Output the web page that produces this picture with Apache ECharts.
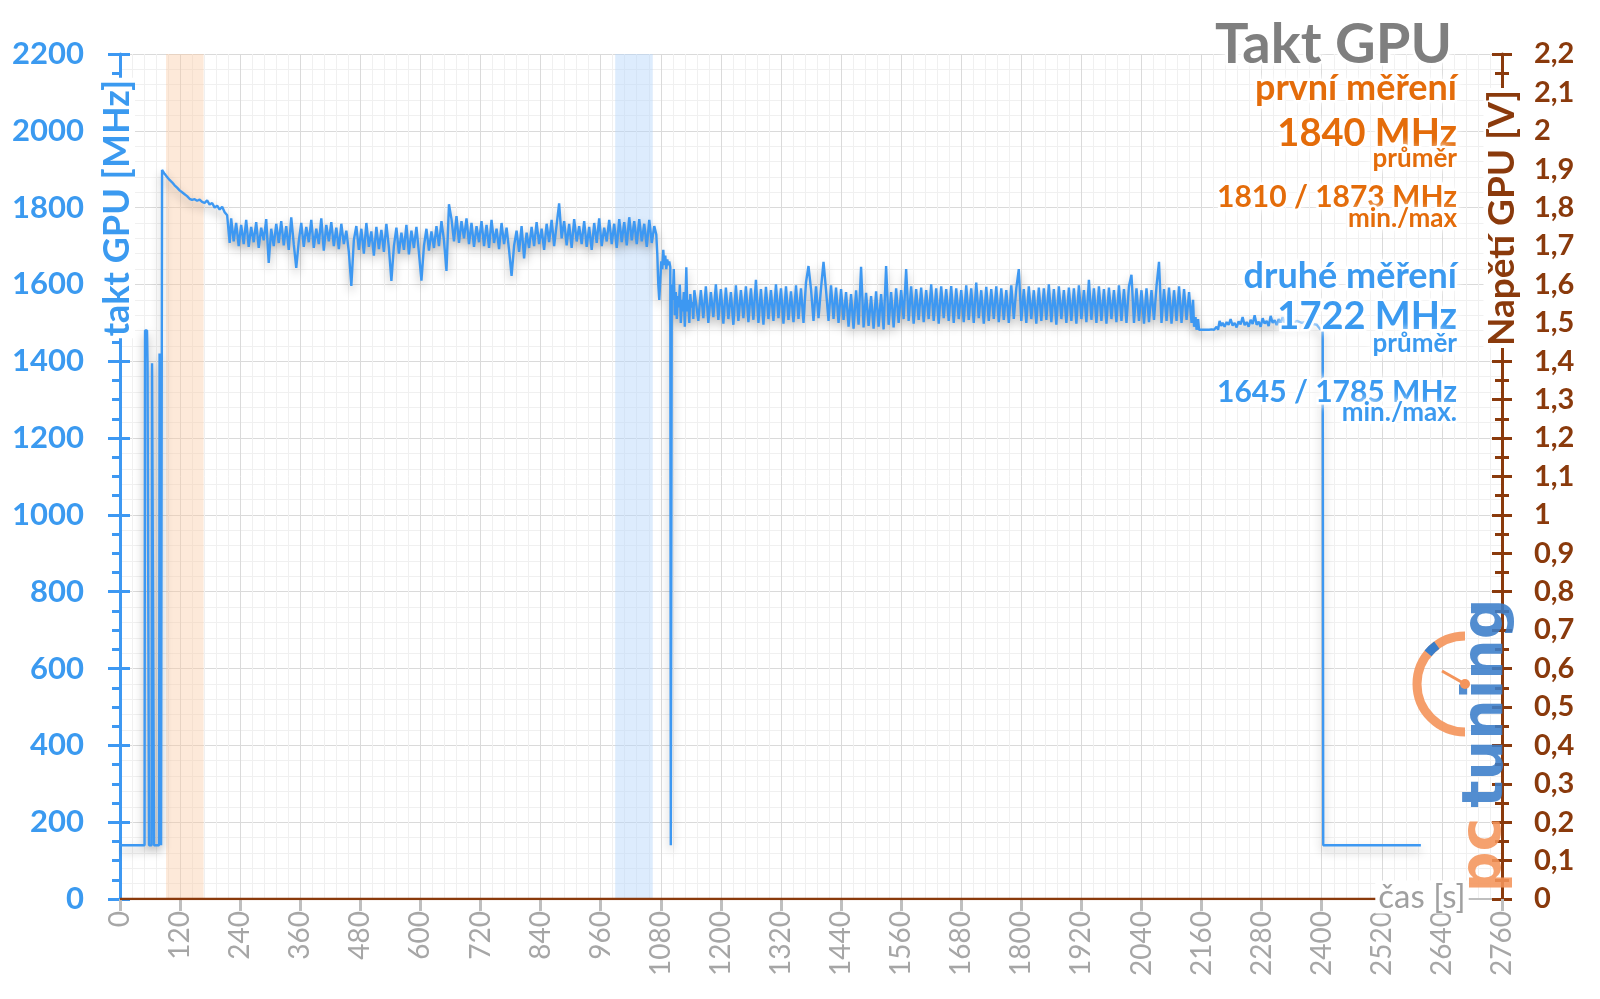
<!DOCTYPE html>
<html><head><meta charset="utf-8">
<script src="https://cdn.jsdelivr.net/npm/echarts@6/dist/echarts.min.js"></script>
<style>html,body{margin:0;padding:0;background:#fff}#c{width:1600px;height:999px}</style>
</head><body><div id="c"></div>
<script>
// ---------- data (time in s, GPU clock in MHz) ----------
const startTimes = [0, 49, 50, 54, 55, 57, 58, 63, 64, 67, 68, 78, 79, 81, 82, 83, 84];
const startClock = [140, 140, 1480, 1480, 1395, 1395, 140, 140, 1395, 1395, 140, 140, 1420, 1420, 140, 140, 1898];

const decayStart = 89, decayStep = 5;
const decayClock = [1888,1880,1872,1866,1858,1852,1845,1840,1835,1830,1823,1820,1822,1818,1821,1815,1812,1819,1808,1812,1800,1805,1795,1802,1788,1780,1708];

const bandAStart = 222, bandAStep = 5;
const bandAClock = [
1772,1712,1760,1700,1755,1705,1768,1698,1750,1710,
1762,1695,1748,1715,1770,1656,1745,1700,1758,1708,
1765,1702,1752,1690,1775,1705,1643,1712,1760,1698,
1750,1710,1768,1695,1745,1705,1772,1688,1755,1712,
1762,1700,1748,1692,1758,1705,1740,1685,1596,1715,
1752,1690,1745,1680,1760,1698,1738,1675,1750,1692,
1742,1685,1758,1695,1609,1700,1748,1680,1735,1690,
1755,1678,1740,1695,1750,1682,1610,1700,1745,1688,
1738,1695,1752,1700,1765,1715,1635,1809,1770,1712,
1778,1708,1765,1720,1772,1705,1760,1698,1752,1710,
1765,1700,1755,1695,1768,1708,1745,1692,1760,1705,
1748,1690,1622,1700,1740,1685,1752,1668,1735,1695,
1750,1700,1762,1705,1745,1690,1758,1710,1768,1700,
1755,1811,1720,1765,1702,1758,1695,1770,1712,1752,
1705,1765,1698,1750,1690,1760,1708,1772,1700,1748,
1712,1768,1705,1758,1695,1770,1710,1762,1702,1775,
1715,1765,1705,1770,1712,1758,1698,1768,1708,1752];

const dropTimes = [1071,1073,1075,1077,1079,1081,1083,1085,1087,1089,1091,1093,1095,1097,1099,1100,1101,1102,1104,1106,1108,1110,1112,1114,1116,1118,1120,1122,1124,1126,1128,1131,1133,1135,1137,1139,1141,1143,1145,1147];
const dropClock = [1730,1680,1600,1560,1610,1660,1640,1690,1650,1675,1640,1665,1650,1660,1645,140,140,1600,1560,1640,1520,1580,1510,1570,1540,1600,1500,1560,1530,1580,1490,1645,1530,1560,1500,1575,1540,1555,1510,1585];

const bandBStart = 1150, bandBStep = 5;
const bandBClock = [
1590,1505,1585,1512,1595,1500,1580,1515,1600,1508,
1588,1498,1592,1510,1580,1495,1598,1505,1585,1512,
1595,1502,1590,1508,1612,1500,1588,1495,1594,1510,
1585,1505,1600,1512,1590,1498,1595,1508,1582,1502,
1598,1510,1590,1500,1605,1648,1588,1505,1595,1512,
1590,1659,1585,1505,1598,1510,1592,1500,1588,1508,
1580,1490,1575,1485,1585,1495,1646,1488,1578,1492,
1570,1485,1582,1490,1575,1483,1648,1495,1580,1488,
1590,1500,1585,1510,1640,1505,1595,1498,1588,1508,
1592,1502,1585,1510,1600,1505,1590,1498,1595,1512,
1588,1505,1596,1500,1590,1510,1585,1502,1598,1508,
1590,1500,1605,1512,1585,1498,1594,1505,1588,1510,
1595,1502,1590,1508,1585,1500,1598,1510,1590,1640,
1505,1588,1500,1595,1510,1585,1498,1592,1505,1590,
1508,1600,1502,1588,1495,1595,1510,1585,1500,1592,
1505,1590,1498,1598,1510,1585,1502,1612,1508,1590,
1500,1595,1505,1588,1498,1592,1510,1585,1502,1598,
1505,1588,1500,1595,1625,1500,1590,1505,1585,1498,
1590,1502,1585,1508,1595,1659,1500,1588,1505,1592,
1498,1585,1505,1595,1500,1588,1508,1580,1500];

const tailTimes = [2143,2145,2148,2150,2153,2155,2160,2165,2170,2175,2180,2185,2190,2193,2196,2199,2202,2206,2210,2214,2218,2222,2226,2230,2234,2238,2242,2246,2250,2254,2258,2262,2266,2270,2274,2278,2282,2286,2290,2294,2298,2302,2306,2310,2314,2318,2322,2326,2330,2340,2350,2360,2370,2380,2390,2396,2402,2403,2598];
const tailClock = [1560,1490,1515,1482,1510,1482,1482,1482,1482,1482,1483,1482,1490,1482,1505,1492,1500,1490,1502,1495,1510,1493,1500,1488,1504,1496,1515,1494,1502,1490,1508,1497,1520,1495,1503,1490,1512,1498,1505,1492,1518,1500,1507,1494,1510,1499,1515,1500,1505,1498,1505,1500,1503,1498,1495,1485,1480,140,140];

// voltage (V) – flat zero line
const voltTimes = [0, 2598];
const voltFirst = [0, 0];
const voltSecond = [0, 0];

// measurement windows (s)
const firstWindow = [92, 167];
const secondWindow = [989, 1064];

// texts
const titleText = 'Takt GPU';
const firstLabel = 'první měření', firstAvg = '1840 MHz', firstMinMax = '1810 / 1873 MHz';
const secondLabel = 'druhé měření', secondAvg = '1722 MHz', secondMinMax = '1645 / 1785 MHz';

// ---------- build ----------
function pairs(ts, vs) { return ts.map((t, i) => [t, vs[i]]); }
function regular(s, st, vs) { return vs.map((v, i) => [s + i * st, v]); }
const clockData = [].concat(
  pairs(startTimes, startClock),
  regular(decayStart, decayStep, decayClock),
  regular(bandAStart, bandAStep, bandAClock),
  pairs(dropTimes, dropClock),
  regular(bandBStart, bandBStep, bandBClock),
  pairs(tailTimes, tailClock)
);

const BLUE = '#3d98f2', BLUE_T = '#3b9af0', ORANGE = '#e46c0a', BROWN = '#8a3a0c', GREY = '#a6a6a6';
const F = 'Lato, "Open Sans", sans-serif';

function txt(text, x, y, size, color, weight) {
  return { type: 'text', x: x, y: y, z: 100, silent: true,
    style: { text: text, font: (weight || 'bold') + ' ' + size + 'px ' + F, fill: color,
      stroke: '#ffffff', lineWidth: 5, strokeFirst: true,
      align: 'right', verticalAlign: 'middle',
      textShadowColor: '#ffffff', textShadowBlur: 10 } };
}

const chart = echarts.init(document.getElementById('c'), null, { renderer: 'canvas' });
chart.setOption({
  animation: false,
  backgroundColor: '#ffffff',
  textStyle: { fontFamily: F },
  grid: { left: 120, right: 98, top: 54, bottom: 100, containLabel: false },
  xAxis: [{
    type: 'value', min: 0, max: 2760, interval: 120,
    axisLine: { show: true, lineStyle: { color: '#bfbfbf', width: 2 } },
    axisTick: { show: true, length: 12, lineStyle: { color: '#bfbfbf', width: 3 } },
    axisLabel: { rotate: 90, margin: 12, fontSize: 28, color: GREY, fontFamily: F, showMaxLabel: true, showMinLabel: true,
      formatter: v => String(v) },
    splitLine: { show: true, lineStyle: { color: '#dadada', width: 1 } },
    minorTick: { show: false, splitNumber: 5 },
    minorSplitLine: { show: true, lineStyle: { color: '#f0f0f0', width: 1 } }
  }],
  yAxis: [{
    type: 'value', position: 'left', min: 0, max: 2200, interval: 200,
    axisLine: { show: true, lineStyle: { color: BLUE, width: 3 } },
    axisTick: { show: true, length: 12, lineStyle: { color: BLUE, width: 3 } },
    minorTick: { show: true, splitNumber: 4, length: 8, lineStyle: { color: BLUE, width: 3 } },
    axisLabel: { margin: 36, fontSize: 31, fontWeight: 'bold', color: BLUE_T, fontFamily: F, formatter: v => String(v) },
    splitLine: { show: true, lineStyle: { color: '#dadada', width: 1 } },
    minorSplitLine: { show: false }
  }, {
    type: 'value', position: 'right', min: 0, max: 2.2, interval: 0.1,
    axisLine: { show: true, lineStyle: { color: BROWN, width: 3 } },
    axisTick: { show: true, length: 10, lineStyle: { color: BROWN, width: 3 } },
    minorTick: { show: true, splitNumber: 2, length: 7, lineStyle: { color: BROWN, width: 3 } },
    axisLabel: { margin: 32, fontSize: 29, fontWeight: 'bold', color: BROWN, fontFamily: F,
      formatter: v => String(Math.round(v * 10) / 10).replace('.', ',') },
    splitLine: { show: false }
  }, {
    type: 'value', position: 'left', min: 0, max: 2200, interval: 200,
    axisLine: { show: false },
    axisTick: { show: true, inside: true, length: 10, lineStyle: { color: BLUE, width: 3 } },
    minorTick: { show: false, splitNumber: 5 },
    axisLabel: { show: false },
    splitLine: { show: false },
    minorSplitLine: { show: true, lineStyle: { color: '#f0f0f0', width: 1 } }
  }, {
    type: 'value', position: 'right', min: 0, max: 2.2, interval: 0.1,
    axisLine: { show: false },
    axisTick: { show: true, inside: true, length: 10, lineStyle: { color: BROWN, width: 3 } },
    minorTick: { show: true, splitNumber: 2, length: 7, lineStyle: { color: BROWN, width: 3 } },
    axisLabel: { show: false },
    splitLine: { show: false }
  }],
  series: [{
    name: 'takt', type: 'line', xAxisIndex: 0, yAxisIndex: 0, data: clockData,
    showSymbol: false, symbol: 'none', sampling: null, z: 5,
    lineStyle: { color: BLUE, width: 2.4, shadowColor: 'rgba(0,0,0,0.3)', shadowBlur: 10, shadowOffsetY: 5 },
    markArea: { silent: true, z: 1, data: [
      [{ xAxis: firstWindow[0], itemStyle: { color: 'rgba(250,200,160,0.4)' } }, { xAxis: firstWindow[1] }],
      [{ xAxis: secondWindow[0], itemStyle: { color: 'rgba(180,212,250,0.45)' } }, { xAxis: secondWindow[1] }]
    ] }
  }, {
    name: 'napětí 1', type: 'line', yAxisIndex: 1, data: pairs(voltTimes, voltFirst), showSymbol: false, z: 6,
    lineStyle: { color: '#f4b183', width: 2 }
  }, {
    name: 'napětí 2', type: 'line', yAxisIndex: 1, data: pairs(voltTimes, voltSecond), showSymbol: false, z: 7,
    lineStyle: { color: BROWN, width: 2.5 }
  }, { type: 'line', yAxisIndex: 2, data: [] }, { type: 'line', yAxisIndex: 3, data: [] }],
  graphic: [
    txt(titleText, 1452, 45, 56, '#7f7f7f'),
    txt(firstLabel, 1457, 88, 36, ORANGE),
    txt(firstAvg, 1457, 134, 38, ORANGE),
    txt('průměr', 1457, 159, 26, ORANGE),
    txt(firstMinMax, 1457, 197, 30, ORANGE),
    txt('min./max', 1457, 219, 26, ORANGE),
    txt(secondLabel, 1457, 276, 36, BLUE_T),
    txt(secondAvg, 1457, 317, 38, BLUE_T),
    txt('průměr', 1457, 344, 26, BLUE_T),
    txt(secondMinMax, 1457, 392, 30, BLUE_T),
    txt('min./max.', 1457, 413, 26, BLUE_T),
    { type: 'text', x: 117, y: 208, rotation: Math.PI / 2, z: 100, silent: true,
      style: { text: 'takt GPU [MHz]', font: 'bold 36px ' + F, fill: BLUE_T, align: 'center', verticalAlign: 'middle',
        backgroundColor: '#ffffff', padding: [0, 2] } },
    { type: 'text', x: 1502, y: 218, rotation: Math.PI / 2, z: 100, silent: true,
      style: { text: 'Napětí GPU [V]', font: 'bold 37px ' + F, fill: BROWN, align: 'center', verticalAlign: 'middle',
        backgroundColor: '#ffffff', padding: [0, 2] } },
    { type: 'text', x: 1422, y: 897, z: 100, silent: true,
      style: { text: 'čas [s]', font: '33px ' + F, fill: '#a0a0a0', align: 'center', verticalAlign: 'middle',
        backgroundColor: '#ffffff', padding: [0, 3] } },
    // logo
    { type: 'arc', z: 50, silent: true, shape: { cx: 1465, cy: 684, r: 48, startAngle: Math.PI * 0.5, endAngle: Math.PI * 1.5, clockwise: true },
      style: { stroke: '#f4945a', lineWidth: 9, fill: null, opacity: 0.9 } },
    { type: 'arc', z: 51, silent: true, shape: { cx: 1465, cy: 684, r: 48, startAngle: Math.PI * 1.22, endAngle: Math.PI * 1.3, clockwise: true },
      style: { stroke: '#3a7dc9', lineWidth: 9, fill: null } },
    { type: 'line', z: 51, silent: true, shape: { x1: 1442, y1: 671, x2: 1465, y2: 684 }, style: { stroke: '#f4945a', lineWidth: 3 } },
    { type: 'circle', z: 51, silent: true, shape: { cx: 1465, cy: 684, r: 5 }, style: { fill: '#f4945a' } },
    { type: 'text', x: 1487, y: 703, rotation: Math.PI / 2, z: 50, silent: true,
      style: { text: 'tuning', font: 'bold 57px "DejaVu Sans"', fill: '#3a7dc9', align: 'center', verticalAlign: 'middle', opacity: 0.88 } },
    { type: 'text', x: 1485, y: 855, rotation: Math.PI / 2, z: 50, silent: true,
      style: { text: 'pc', font: 'bold 57px "DejaVu Sans"', fill: '#f4945a', align: 'center', verticalAlign: 'middle', opacity: 0.88 } }
  ]
});
</script>
</body></html>
